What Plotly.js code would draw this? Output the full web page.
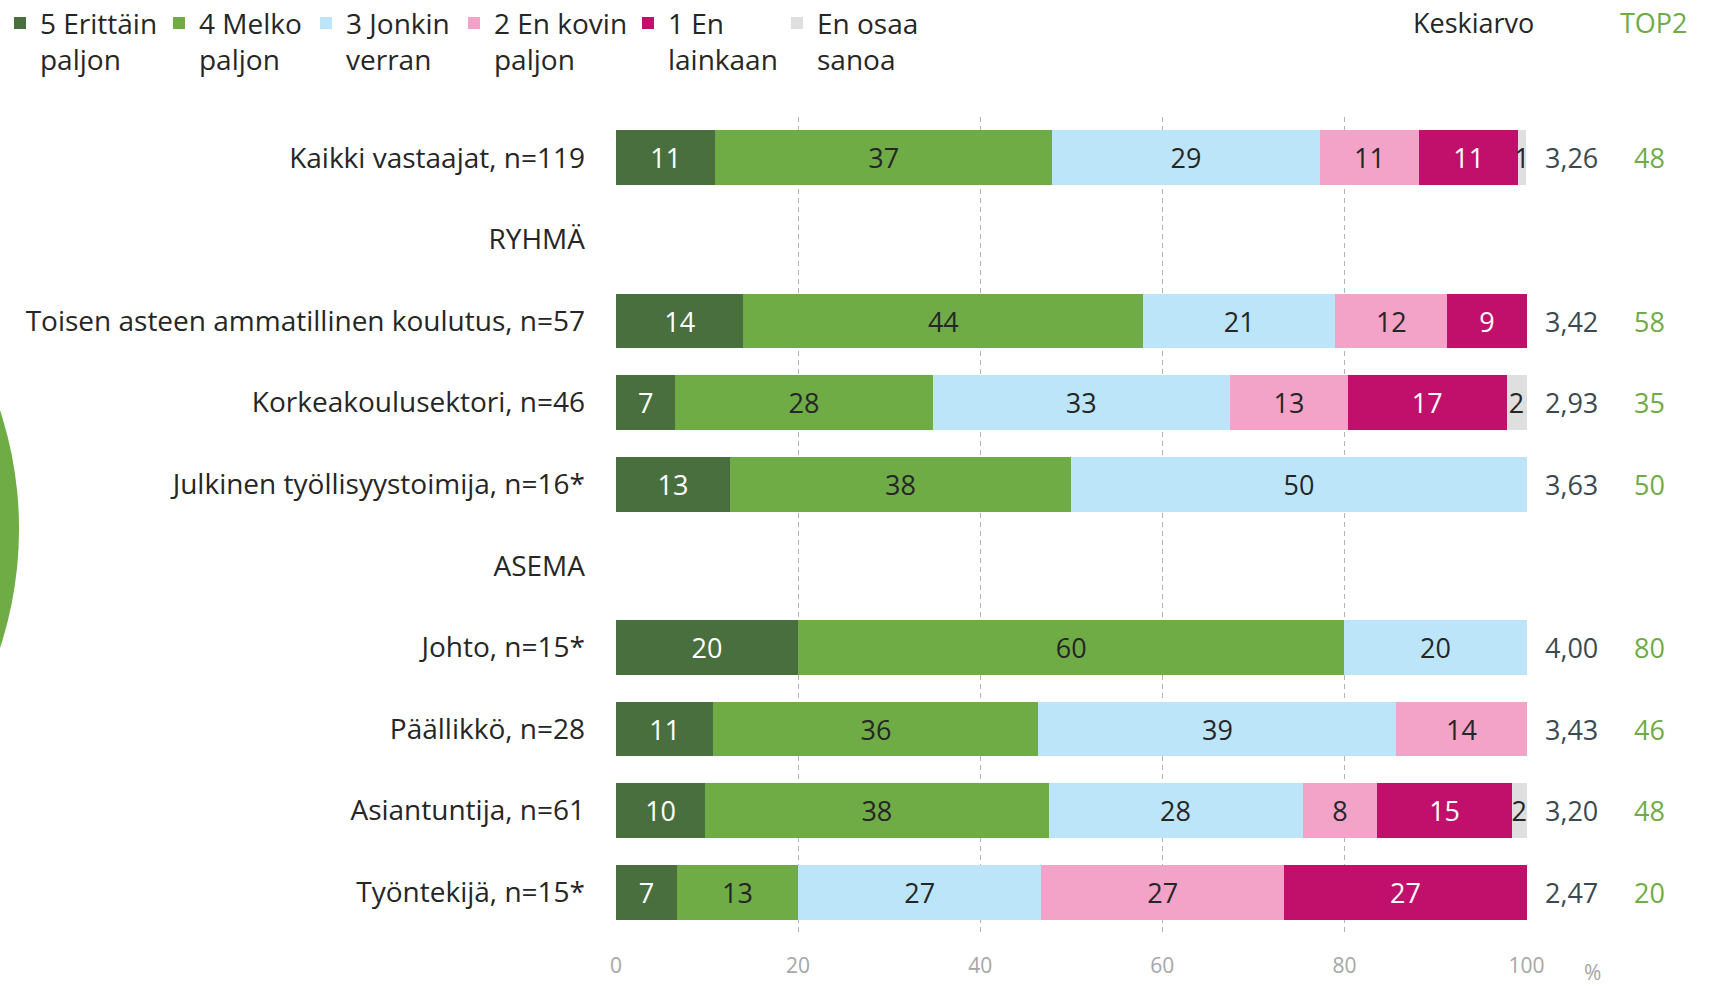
<!DOCTYPE html>
<html>
<head>
<meta charset="utf-8">
<script src="https://cdn.plot.ly/plotly-3.0.1.min.js"></script>
<style>
  html, body { margin: 0; padding: 0; background: #ffffff; }
  #chart { width: 1716px; height: 986px; }
</style>
</head>
<body>
<div id="chart"></div>
<script>
// ---- Data ----
const categories = [
  "Kaikki vastaajat, n=119",
  "RYHMÄ",
  "Toisen asteen ammatillinen koulutus, n=57",
  "Korkeakoulusektori, n=46",
  "Julkinen työllisyystoimija, n=16*",
  "ASEMA",
  "Johto, n=15*",
  "Päällikkö, n=28",
  "Asiantuntija, n=61",
  "Työntekijä, n=15*"
];

const seriesNames = [
  "5 Erittäin<br>paljon",
  "4 Melko<br>paljon",
  "3 Jonkin<br>verran",
  "2 En kovin<br>paljon",
  "1 En<br>lainkaan",
  "En osaa<br>sanoa"
];

const s5 = [10.9, null, 14.0, 6.5, 12.5, null, 20.0, 10.7, 9.8, 6.7];
const s4 = [37.0, null, 43.9, 28.3, 37.5, null, 60.0, 35.7, 37.7, 13.3];
const s3 = [29.4, null, 21.1, 32.6, 50.0, null, 20.0, 39.3, 27.9, 26.7];
const s2 = [10.9, null, 12.3, 13.0, null, null, null, 14.3, 8.2, 26.7];
const s1 = [10.9, null, 8.7, 17.4, null, null, null, null, 14.8, 26.6];
const s0 = [0.8, null, null, 2.2, null, null, null, null, 1.6, null];

const keskiarvo = [3.26, null, 3.42, 2.93, 3.63, null, 4.00, 3.43, 3.20, 2.47];
const top2 = [48, null, 58, 35, 50, null, 80, 46, 48, 20];

const xTicks = [0, 20, 40, 60, 80, 100];

// ---- Styles ----
const colors = ["#4a6f3f", "#6fac46", "#bce5fa", "#f3a2c8", "#c1106b", "#dfdfdf"];
const textColors = ["#ffffff", "#262626", "#262626", "#262626", "#ffffff", "#262626"];
const legendWidths = [114, 102, 103, 129, 104, 100];
const FONT = "Open Sans, sans-serif";

const allSeries = [s5, s4, s3, s2, s1, s0];
const traces = allSeries.map((vals, i) => ({
  type: "bar",
  orientation: "h",
  name: seriesNames[i],
  y: categories,
  x: vals,
  text: vals.map(v => (v === null || v === undefined) ? "" : String(Math.round(v))),
  textposition: "inside",
  insidetextanchor: "middle",
  textangle: 0,
  constraintext: "none",
  cliponaxis: false,
  textfont: { family: FONT, size: 27, color: textColors[i] },
  marker: { color: colors[i], line: { width: 0 } },
  legendwidth: legendWidths[i],
  hoverinfo: "skip"
}));

// plot area in px: x 616..1527, y 117..933
const annotations = [];
categories.forEach((c, i) => {
  if (keskiarvo[i] !== null) {
    annotations.push({
      xref: "paper", yref: "y", x: 1.0483, y: c,
      text: keskiarvo[i].toFixed(2).replace(".", ","),
      showarrow: false, xanchor: "center", yanchor: "middle",
      font: { family: FONT, size: 27, color: "#3b4a50" }
    });
  }
  if (top2[i] !== null) {
    annotations.push({
      xref: "paper", yref: "y", x: 1.1350, y: c,
      text: String(top2[i]),
      showarrow: false, xanchor: "center", yanchor: "middle",
      font: { family: FONT, size: 27, color: "#6fac46" }
    });
  }
});
annotations.push({
  xref: "paper", yref: "paper", x: 0.9418, y: 1.1152,
  text: "Keskiarvo", showarrow: false, xanchor: "center", yanchor: "middle",
  font: { family: FONT, size: 27, color: "#262626" }
});
annotations.push({
  xref: "paper", yref: "paper", x: 1.1394, y: 1.1152,
  text: "TOP2", showarrow: false, xanchor: "center", yanchor: "middle",
  font: { family: FONT, size: 27, color: "#6fac46" }
});
annotations.push({
  xref: "paper", yref: "paper", x: 1.0714, y: -0.0478,
  text: "%", showarrow: false, xanchor: "center", yanchor: "middle",
  font: { family: FONT, size: 21, color: "#a6a6a6" }
});

const layout = {
  width: 1716,
  height: 986,
  margin: { l: 616, r: 189, t: 117, b: 53, pad: 0, autoexpand: false },
  paper_bgcolor: "#ffffff",
  plot_bgcolor: "#ffffff",
  barmode: "stack",
  bargap: 0.33,
  showlegend: true,
  font: { family: FONT, color: "#262626" },
  legend: {
    orientation: "h",
    x: -0.6762, xanchor: "left",
    y: 1.1455, yanchor: "top",
    traceorder: "normal",
    valign: "top",
    font: { family: FONT, size: 28, color: "#262626" },
    bgcolor: "rgba(0,0,0,0)",
    borderwidth: 0
  },
  xaxis: {
    range: [0, 100.05],
    tickvals: xTicks,
    ticktext: xTicks.map(String),
    showgrid: true,
    gridcolor: "#b3b3b3",
    gridwidth: 1,
    griddash: "5px,4px",
    zeroline: false,
    showline: false,
    ticks: "",
    ticklabelstandoff: 18,
    tickfont: { family: FONT, size: 21, color: "#a6a6a6" },
    automargin: false,
    fixedrange: true
  },
  yaxis: {
    type: "category",
    categoryorder: "array",
    categoryarray: categories,
    autorange: "reversed",
    showgrid: false,
    zeroline: false,
    showline: false,
    ticks: "",
    ticklabelstandoff: 30,
    tickfont: { family: FONT, size: 28, color: "#262626" },
    automargin: false,
    fixedrange: true
  },
  shapes: [{
    type: "circle",
    xref: "paper", yref: "paper",
    x0: -1.4940, x1: -0.6553,
    y0: 0.02696, y1: 0.9632,
    fillcolor: "#6fac46",
    line: { width: 0 },
    layer: "below"
  }],
  uniformtext: { mode: "show", minsize: 27 },
  annotations: annotations
};

Plotly.newPlot("chart", traces, layout, { displayModeBar: false, staticPlot: true });
</script>
</body>
</html>
